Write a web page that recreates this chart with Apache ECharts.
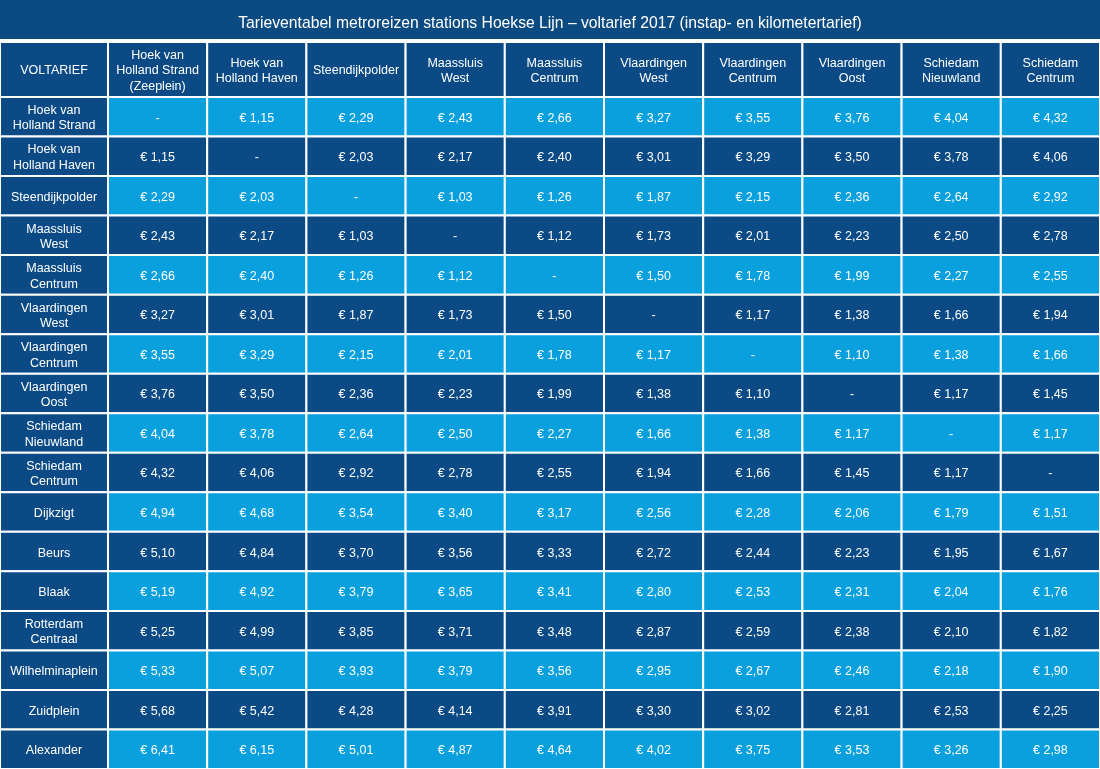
<!DOCTYPE html>
<html>
<head>
<meta charset="utf-8">
<script src="https://cdn.jsdelivr.net/npm/echarts@6/dist/echarts.min.js"></script>
<style>
html,body{margin:0;padding:0;background:#fff;}
#chart{width:1100px;height:769px;}
</style>
</head>
<body>
<div id="chart"></div>
<script>
const titleText = 'Tarieventabel metroreizen stations Hoekse Lijn – voltarief 2017 (instap- en kilometertarief)';
const cornerLabel = 'VOLTARIEF';
const columns = [
  'Hoek van\nHolland Strand\n(Zeeplein)', 'Hoek van\nHolland Haven', 'Steendijkpolder',
  'Maassluis\nWest', 'Maassluis\nCentrum', 'Vlaardingen\nWest', 'Vlaardingen\nCentrum',
  'Vlaardingen\nOost', 'Schiedam\nNieuwland', 'Schiedam\nCentrum'
];
const rows = [
  'Hoek van\nHolland Strand', 'Hoek van\nHolland Haven', 'Steendijkpolder', 'Maassluis\nWest',
  'Maassluis\nCentrum', 'Vlaardingen\nWest', 'Vlaardingen\nCentrum', 'Vlaardingen\nOost',
  'Schiedam\nNieuwland', 'Schiedam\nCentrum', 'Dijkzigt', 'Beurs', 'Blaak',
  'Rotterdam\nCentraal', 'Wilhelminaplein', 'Zuidplein', 'Alexander'
];
// fares per row (null = same station, shown as "-")
const fares = [
  [null, 1.15, 2.29, 2.43, 2.66, 3.27, 3.55, 3.76, 4.04, 4.32],
  [1.15, null, 2.03, 2.17, 2.40, 3.01, 3.29, 3.50, 3.78, 4.06],
  [2.29, 2.03, null, 1.03, 1.26, 1.87, 2.15, 2.36, 2.64, 2.92],
  [2.43, 2.17, 1.03, null, 1.12, 1.73, 2.01, 2.23, 2.50, 2.78],
  [2.66, 2.40, 1.26, 1.12, null, 1.50, 1.78, 1.99, 2.27, 2.55],
  [3.27, 3.01, 1.87, 1.73, 1.50, null, 1.17, 1.38, 1.66, 1.94],
  [3.55, 3.29, 2.15, 2.01, 1.78, 1.17, null, 1.10, 1.38, 1.66],
  [3.76, 3.50, 2.36, 2.23, 1.99, 1.38, 1.10, null, 1.17, 1.45],
  [4.04, 3.78, 2.64, 2.50, 2.27, 1.66, 1.38, 1.17, null, 1.17],
  [4.32, 4.06, 2.92, 2.78, 2.55, 1.94, 1.66, 1.45, 1.17, null],
  [4.94, 4.68, 3.54, 3.40, 3.17, 2.56, 2.28, 2.06, 1.79, 1.51],
  [5.10, 4.84, 3.70, 3.56, 3.33, 2.72, 2.44, 2.23, 1.95, 1.67],
  [5.19, 4.92, 3.79, 3.65, 3.41, 2.80, 2.53, 2.31, 2.04, 1.76],
  [5.25, 4.99, 3.85, 3.71, 3.48, 2.87, 2.59, 2.38, 2.10, 1.82],
  [5.33, 5.07, 3.93, 3.79, 3.56, 2.95, 2.67, 2.46, 2.18, 1.90],
  [5.68, 5.42, 4.28, 4.14, 3.91, 3.30, 3.02, 2.81, 2.53, 2.25],
  [6.41, 6.15, 5.01, 4.87, 4.64, 4.02, 3.75, 3.53, 3.26, 2.98]
];

const DARK = '#0b4a85';
const LIGHT = '#0aa0dd';
const FONT = '"Liberation Sans", Arial, sans-serif';

function fmt(v) { return v == null ? '-' : '€ ' + v.toFixed(2).replace('.', ','); }

function makeRender(texts, fillFn) {
  return function (params, api) {
    const xi = api.value(0), yi = api.value(1);
    const c = api.coord([xi, yi]);
    const s = api.size([1, 1]);
    return {
      type: 'rect',
      shape: { x: c[0] - s[0] / 2, y: c[1] - s[1] / 2, width: s[0], height: s[1] },
      style: { fill: fillFn(xi, yi), stroke: '#ffffff', lineWidth: 2 },
      textContent: {
        style: {
          text: texts[params.dataIndex], fill: '#ffffff', fontSize: 12.5,
          fontFamily: FONT, lineHeight: 15.5, align: 'center', verticalAlign: 'middle'
        }
      },
      textConfig: { position: 'inside', offset: [0, 1.5] }
    };
  };
}

const headerTop = 42, bodyTop = 97, firstW = 108;

const grids = [
  { left: -1, top: headerTop, width: firstW + 1, height: bodyTop - headerTop },      // corner
  { left: firstW, top: headerTop, right: -1, height: bodyTop - headerTop },          // column header
  { left: -1, top: bodyTop, width: firstW + 1, bottom: 0 },                          // row header
  { left: firstW, top: bodyTop, right: -1, bottom: 0 }                               // body
];
const xAxes = [
  { gridIndex: 0, type: 'category', data: [cornerLabel], show: false },
  { gridIndex: 1, type: 'category', data: columns, show: false },
  { gridIndex: 2, type: 'category', data: [cornerLabel], show: false },
  { gridIndex: 3, type: 'category', data: columns, show: false }
];
const yAxes = [
  { gridIndex: 0, type: 'category', data: ['h'], show: false, inverse: true },
  { gridIndex: 1, type: 'category', data: ['h'], show: false, inverse: true },
  { gridIndex: 2, type: 'category', data: rows, show: false, inverse: true },
  { gridIndex: 3, type: 'category', data: rows, show: false, inverse: true }
];

const cornerData = [[0, 0]];
const colHeadData = columns.map((c, i) => [i, 0]);
const rowHeadData = rows.map((r, j) => [0, j]);
const bodyData = [];
const bodyTexts = [];
fares.forEach((row, j) => row.forEach((v, i) => { bodyData.push([i, j, v == null ? 0 : v]); bodyTexts.push(fmt(v)); }));

const chart = echarts.init(document.getElementById('chart'), null, { renderer: 'canvas' });
chart.setOption({
  backgroundColor: '#ffffff',
  animation: false,
  title: {
    text: titleText, left: 'center', top: 11,
    textStyle: { color: '#ffffff', fontSize: 15.7, fontWeight: 'normal', fontFamily: FONT }
  },
  graphic: [{
    type: 'rect', left: 0, top: 0, z: -1,
    shape: { width: 1100, height: 39 },
    style: { fill: '#0c4a82' }
  }],
  grid: grids,
  xAxis: xAxes,
  yAxis: yAxes,
  series: [
    { type: 'custom', xAxisIndex: 0, yAxisIndex: 0, data: cornerData,
      renderItem: makeRender([cornerLabel], () => DARK) },
    { type: 'custom', xAxisIndex: 1, yAxisIndex: 1, data: colHeadData,
      renderItem: makeRender(columns, () => DARK) },
    { type: 'custom', xAxisIndex: 2, yAxisIndex: 2, data: rowHeadData,
      renderItem: makeRender(rows, () => DARK) },
    { type: 'custom', xAxisIndex: 3, yAxisIndex: 3, data: bodyData,
      renderItem: makeRender(bodyTexts, (x, y) => (y % 2 === 0 ? LIGHT : DARK)) }
  ]
});
</script>
</body>
</html>
